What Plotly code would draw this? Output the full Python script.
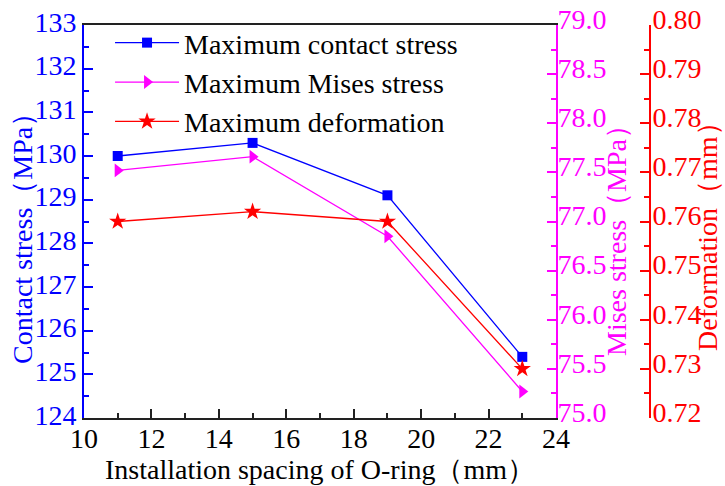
import plotly.graph_objects as go

# O-ring installation spacing (mm)
spacing = [11, 15, 19, 23]

# Maximum contact stress (MPa) - left axis
contact_stress = [130.0, 130.3, 129.1, 125.4]
# Maximum Mises stress (MPa) - middle axis
mises_stress = [77.52, 77.66, 76.85, 75.27]
# Maximum deformation (mm) - right axis
deformation = [0.760, 0.762, 0.760, 0.730]

FONT = "Liberation Serif"
FS = 28
BLUE = "#0000ff"
MAGENTA = "#ff00ff"
RED = "#ff0000"

W, H = 725, 486
L, R, T, B = 84, 650, 25, 418          # paper left/right (red axis), plot top/bottom
PLOT_RIGHT = 556                        # right edge of the plotting area (magenta axis)

fig = go.Figure()

fig.add_trace(go.Scatter(
    x=spacing, y=contact_stress, name="Maximum contact stress",
    mode="lines+markers", yaxis="y",
    line=dict(color=BLUE, width=1.3),
    marker=dict(symbol="square", size=10, color=BLUE),
))
fig.add_trace(go.Scatter(
    x=spacing, y=mises_stress, name="Maximum Mises stress",
    mode="lines+markers", yaxis="y2",
    line=dict(color=MAGENTA, width=1.3),
    marker=dict(symbol="triangle-right", size=12, color=MAGENTA),
))
fig.add_trace(go.Scatter(
    x=spacing, y=deformation, name="Maximum deformation",
    mode="lines+markers", yaxis="y3",
    line=dict(color=RED, width=1.3),
    marker=dict(symbol="star", size=13, color=RED),
))

x_end = (PLOT_RIGHT - L) / (R - L)
pw = R - L      # paper width in px
ph = B - T      # paper height in px


def px_x(px):
    return (px - L) / pw


def px_y(py):
    return (B - py) / ph


# Rotated y-axis titles
y_titles = [
    ("Contact stress（MPa）", BLUE, 22, 232),
    ("Mises stress（MPa）", MAGENTA, 616, 234),
    ("Deformation（mm）", RED, 708, 230),
]
annotations = [
    dict(text=t, xref="paper", yref="paper", x=px_x(xc), y=px_y(yc),
         xanchor="center", yanchor="middle", textangle=-90, showarrow=False,
         font=dict(family=FONT, size=FS, color=c))
    for t, c, xc, yc in y_titles
]

fig.update_layout(
    width=W, height=H,
    margin=dict(l=L, r=W - R, t=T, b=H - B, autoexpand=False),
    paper_bgcolor="white", plot_bgcolor="white",
    font=dict(family=FONT, size=FS, color="black"),
    showlegend=True,
    annotations=annotations,
    legend=dict(
        x=0.046, y=1.018, xanchor="left", yanchor="top",
        bgcolor="rgba(0,0,0,0)", borderwidth=0,
        font=dict(family=FONT, size=FS, color="black"),
        tracegroupgap=0, itemwidth=64,
    ),
    xaxis=dict(
        domain=[0, x_end], range=[10, 24],
        tickmode="linear", tick0=10, dtick=2,
        ticks="inside", ticklen=9, tickwidth=1.5, tickcolor="#222",
        minor=dict(ticks="inside", dtick=1, ticklen=5, tickwidth=1.5, tickcolor="#222"),
        showline=True, linecolor="#222", linewidth=2, mirror=True,
        showgrid=False, zeroline=False, ticklabelstandoff=-6,
        tickfont=dict(family=FONT, size=FS, color="black"),
        title=dict(text="Installation spacing of O-ring（mm）",
                   font=dict(family=FONT, size=FS, color="black"), standoff=0),
    ),
    yaxis=dict(
        range=[124, 133], tickmode="linear", tick0=124, dtick=1,
        ticks="inside", ticklen=9, tickwidth=1.5, tickcolor=BLUE,
        minor=dict(ticks="inside", dtick=0.5, ticklen=5, tickwidth=1.5, tickcolor=BLUE),
        showline=True, linecolor=BLUE, linewidth=2,
        showgrid=False, zeroline=False, ticklabelshift=-3,
        tickfont=dict(family=FONT, size=FS, color=BLUE),
    ),
    yaxis2=dict(
        overlaying="y", side="right", anchor="x",
        range=[75, 79], tickmode="linear", tick0=75, dtick=0.5, tickformat=".1f",
        ticks="inside", ticklen=9, tickwidth=1.5, tickcolor=MAGENTA,
        minor=dict(ticks="inside", dtick=0.25, ticklen=5, tickwidth=1.5, tickcolor=MAGENTA),
        showline=True, linecolor=MAGENTA, linewidth=2,
        showgrid=False, zeroline=False, ticklabelstandoff=-6, ticklabelshift=-6,
        tickfont=dict(family=FONT, size=FS, color=MAGENTA),
    ),
    yaxis3=dict(
        overlaying="y", side="right", anchor="free", position=1.0,
        range=[0.72, 0.80], tickmode="linear", tick0=0.72, dtick=0.01, tickformat=".2f",
        ticks="inside", ticklen=9, tickwidth=1.5, tickcolor=RED,
        minor=dict(ticks="inside", dtick=0.005, ticklen=5, tickwidth=1.5, tickcolor=RED),
        showline=True, linecolor=RED, linewidth=2,
        showgrid=False, zeroline=False, ticklabelstandoff=-4, ticklabelshift=-6,
        tickfont=dict(family=FONT, size=FS, color=RED),
    ),
)

fig.write_html("out.html")
